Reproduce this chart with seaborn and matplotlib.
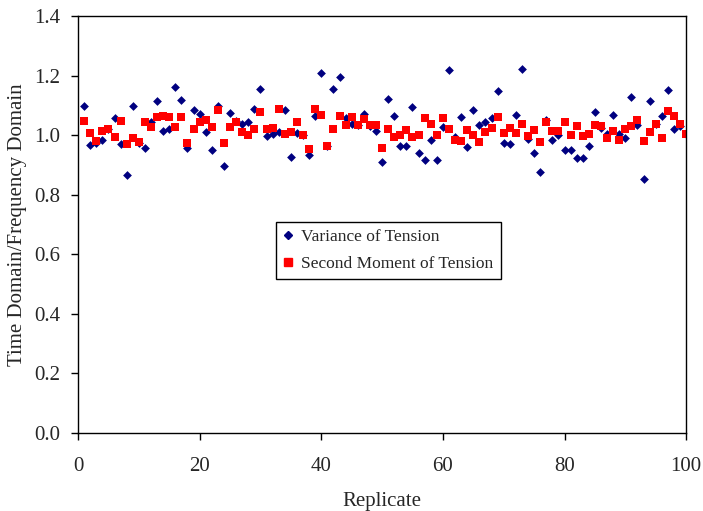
import numpy as np
import pandas as pd
import matplotlib
matplotlib.use("Agg")
import matplotlib.pyplot as plt
import seaborn as sns

replicate = list(range(1, 101))

variance_of_tension = [
    1.099, 0.968, 0.974, 0.983, 1.020, 1.058, 0.971, 0.867, 1.098, 0.975,
    0.957, 1.045, 1.114, 1.015, 1.020, 1.162, 1.117, 0.957, 1.085, 1.071,
    1.010, 0.949, 1.097, 0.895, 1.075, 1.049, 1.038, 1.045, 1.088, 1.155,
    0.996, 1.005, 1.010, 1.083, 0.927, 1.007, 1.000, 0.934, 1.066, 1.209,
    0.965, 1.155, 1.195, 1.058, 1.038, 1.035, 1.070, 1.030, 1.013, 0.909,
    1.123, 1.066, 0.965, 0.965, 1.094, 0.940, 0.918, 0.985, 0.915, 1.026,
    1.218, 0.994, 1.060, 0.959, 1.086, 1.035, 1.043, 1.058, 1.150, 0.974,
    0.971, 1.069, 1.222, 0.987, 0.940, 0.875, 1.050, 0.985, 1.002, 0.949,
    0.949, 0.923, 0.923, 0.965, 1.078, 1.024, 1.005, 1.067, 1.005, 0.989,
    1.128, 1.033, 0.853, 1.114, 1.039, 1.066, 1.153, 1.021, 1.030, 1.005,
]

second_moment_of_tension = [
    1.049, 1.008, 0.981, 1.015, 1.022, 0.994, 1.049, 0.969, 0.990, 0.976,
    1.043, 1.027, 1.061, 1.063, 1.061, 1.027, 1.060, 0.973, 1.021, 1.043,
    1.051, 1.027, 1.086, 0.973, 1.027, 1.043, 1.011, 0.999, 1.021, 1.077,
    1.021, 1.023, 1.088, 1.005, 1.010, 1.045, 1.000, 0.953, 1.088, 1.069,
    0.965, 1.022, 1.066, 1.035, 1.060, 1.033, 1.054, 1.035, 1.035, 0.957,
    1.021, 0.994, 1.000, 1.016, 0.994, 1.002, 1.058, 1.038, 1.000, 1.057,
    1.021, 0.983, 0.979, 1.016, 1.000, 0.976, 1.011, 1.024, 1.060, 1.007,
    1.023, 1.007, 1.038, 0.996, 1.016, 0.976, 1.045, 1.015, 1.015, 1.045,
    1.000, 1.030, 0.996, 1.005, 1.033, 1.030, 0.989, 1.015, 0.983, 1.021,
    1.032, 1.050, 0.979, 1.012, 1.039, 0.990, 1.082, 1.066, 1.039, 1.005,
]

series_names = ["Variance of Tension", "Second Moment of Tension"]
x_ticks = [0, 20, 40, 60, 80, 100]
y_ticks = [0.0, 0.2, 0.4, 0.6, 0.8, 1.0, 1.2, 1.4]

df = pd.DataFrame({
    "Replicate": replicate * 2,
    "Ratio": variance_of_tension + second_moment_of_tension,
    "Series": [series_names[0]] * 100 + [series_names[1]] * 100,
})

sns.set_theme(style="ticks")
plt.rcParams["font.family"] = ["Liberation Serif", "DejaVu Serif"]

fig = plt.figure(figsize=(7.03, 5.11), dpi=100)
ax = fig.add_axes([0.111, 0.1526, 0.865, 0.816])

palette = {series_names[0]: "#000080", series_names[1]: "#FF0000"}
markers = {series_names[0]: "D", series_names[1]: "s"}
sizes_map = {series_names[0]: 20, series_names[1]: 34}

for name in series_names:
    sub = df[df["Series"] == name]
    sns.scatterplot(data=sub, x="Replicate", y="Ratio", ax=ax,
                    color=palette[name], marker=markers[name],
                    s=sizes_map[name], linewidth=0, label=name, legend=False)

ax.set_xlim(0, 100)
ax.set_ylim(0, 1.4)
ax.set_xticks(x_ticks)
ax.set_yticks(y_ticks)
ax.set_yticklabels([f"{v:.1f}" for v in y_ticks])
ax.set_xlabel("Replicate", fontsize=15, labelpad=12)
ax.set_ylabel("Time Domain/Frequency Domain", fontsize=15, labelpad=5)
ax.tick_params(axis="both", labelsize=15, direction="out", length=5,
               width=1, color="black")
ax.tick_params(axis="x", pad=12)
ax.tick_params(axis="y", pad=8)
for sp in ax.spines.values():
    sp.set_visible(True)
    sp.set_color("black")
    sp.set_linewidth(1.0)

handles = [
    plt.Line2D([], [], linestyle="none", marker="D", color="#000080", markersize=4),
    plt.Line2D([], [], linestyle="none", marker="s", color="#FF0000", markersize=6),
]
leg = ax.legend(handles, series_names, loc="upper left",
                bbox_to_anchor=(0.326, 0.507), fontsize=12.5, frameon=True,
                fancybox=False, edgecolor="black", framealpha=1,
                handlelength=0.6, handletextpad=0.45, borderpad=0.4,
                labelspacing=0.65, borderaxespad=0)
leg.get_frame().set_linewidth(1.0)

fig.savefig("out.png", dpi=100, facecolor="white")
